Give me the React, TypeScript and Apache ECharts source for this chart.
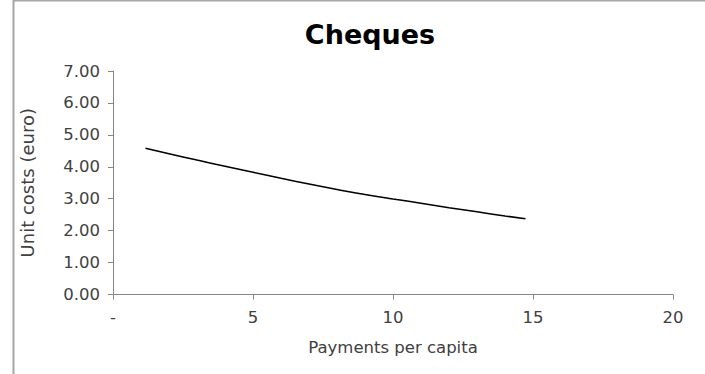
import React, { useEffect, useRef } from "react";
import * as echarts from "echarts";

const paymentsPerCapita = [1.16, 2, 3, 4, 5, 6, 7, 8, 9, 10, 11, 12, 13, 14, 14.73];
const unitCosts = [4.58, 4.41, 4.21, 4.02, 3.83, 3.64, 3.46, 3.29, 3.13, 2.99, 2.86, 2.72, 2.59, 2.46, 2.37];
const xTicks = [0, 5, 10, 15, 20];
const yTicks = [0, 1, 2, 3, 4, 5, 6, 7];

const FONT = "'DejaVu Sans', Verdana, sans-serif";

export default function App() {
  const ref = useRef<HTMLDivElement>(null);
  useEffect(() => {
    if (!ref.current) return;
    const chart = echarts.init(ref.current, null, { renderer: "svg" });
    const axisColor = "#868686";
    chart.setOption({
      animation: false,
      backgroundColor: "#ffffff",
      title: {
        text: "Cheques",
        left: 365,
        textAlign: "center",
        top: 16,
        textStyle: { fontFamily: FONT, fontWeight: "bold", fontSize: 27, color: "#000000" },
      },
      grid: { left: 113, right: 32, top: 71, bottom: 79.5 },
      graphic: [
        { type: "line", shape: { x1: 13.5, y1: 0, x2: 13.5, y2: 374 }, style: { stroke: "#a6a6a6", lineWidth: 2 } },
        { type: "line", shape: { x1: 13, y1: 0.5, x2: 705, y2: 0.5 }, style: { stroke: "#a6a6a6", lineWidth: 2 } },
      ],
      xAxis: {
        type: "value",
        min: xTicks[0],
        max: xTicks[xTicks.length - 1],
        interval: 5,
        name: "Payments per capita",
        nameLocation: "middle",
        nameGap: 44,
        nameTextStyle: { fontFamily: FONT, fontSize: 16.5, color: "#404040" },
        axisLine: { show: true, onZero: false, lineStyle: { color: axisColor, width: 1 } },
        axisTick: { show: true, inside: false, length: 5, lineStyle: { color: axisColor } },
        axisLabel: {
          fontFamily: FONT,
          fontSize: 16.5,
          color: "#404040",
          margin: 14,
          formatter: (v: number) => (v === 0 ? "-" : String(v)),
        },
        splitLine: { show: false },
      },
      yAxis: {
        type: "value",
        min: yTicks[0],
        max: yTicks[yTicks.length - 1],
        interval: 1,
        name: "Unit costs (euro)",
        nameLocation: "middle",
        nameGap: 77,
        nameTextStyle: { fontFamily: FONT, fontSize: 18, color: "#404040" },
        axisLine: { show: true, lineStyle: { color: axisColor, width: 1 } },
        axisTick: { show: true, inside: false, length: 5, lineStyle: { color: axisColor } },
        axisLabel: {
          fontFamily: FONT,
          fontSize: 16.5,
          color: "#404040",
          margin: 13,
          formatter: (v: number) => v.toFixed(2),
        },
        splitLine: { show: false },
      },
      series: [
        {
          type: "line",
          data: paymentsPerCapita.map((x, i) => [x, unitCosts[i]]),
          smooth: true,
          showSymbol: false,
          lineStyle: { color: "#000000", width: 1.5 },
        },
      ],
    });
    return () => chart.dispose();
  }, []);
  return <div ref={ref} style={{ width: 705, height: 374, position: "absolute", left: 0, top: 0 }} />;
}
